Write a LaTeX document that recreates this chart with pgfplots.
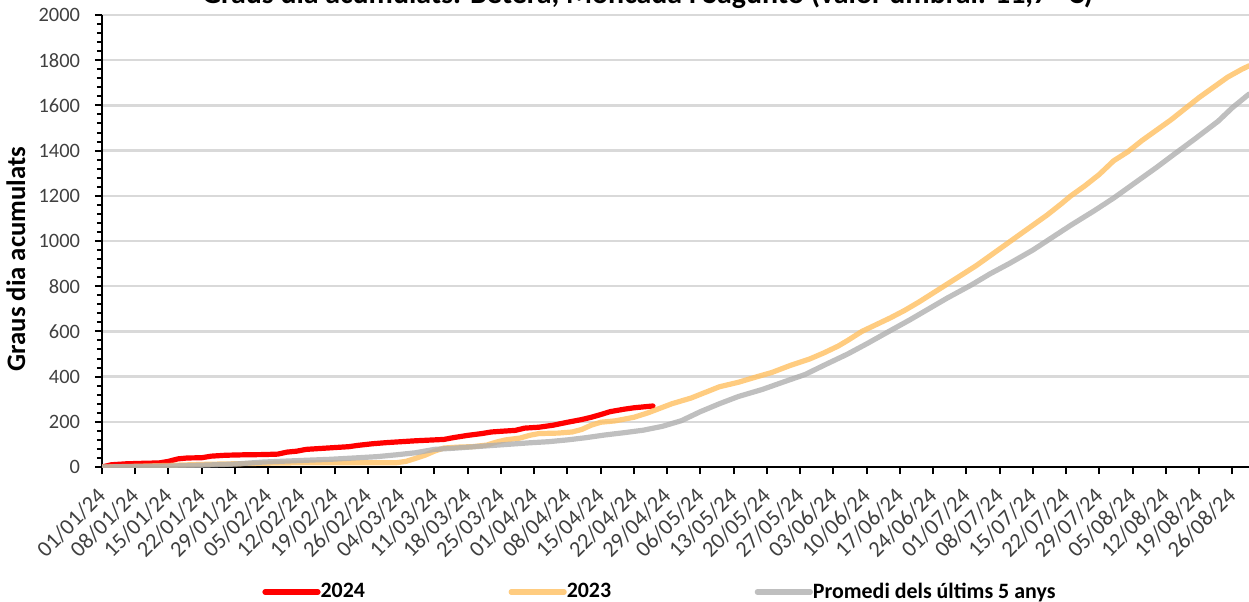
\documentclass[border=0pt]{standalone}
\usepackage{pgfplots}
\pgfplotsset{compat=1.18}
\usepackage{fontspec}
\setmainfont{Carlito}
\definecolor{c24}{RGB}{255,0,0}
\definecolor{c23}{RGB}{255,191,96}
\definecolor{cavg}{RGB}{175,175,175}
\definecolor{gridc}{RGB}{217,217,217}
\definecolor{tickc}{RGB}{64,64,64}
\begin{document}
\begin{tikzpicture}
\begin{axis}[
  at={(0,0)}, anchor=south west,
  scale only axis, width=573.5bp, height=226bp,
  xmin=0, xmax=241.5, ymin=0, ymax=2000,
  axis x line*=bottom, axis y line*=left,
  axis line style={line width=1.4bp, black},
  xtick={0,7,...,238},
  xticklabels={01/01/24,08/01/24,15/01/24,22/01/24,29/01/24,05/02/24,12/02/24,19/02/24,26/02/24,04/03/24,11/03/24,18/03/24,25/03/24,01/04/24,08/04/24,15/04/24,22/04/24,29/04/24,06/05/24,13/05/24,20/05/24,27/05/24,03/06/24,10/06/24,17/06/24,24/06/24,01/07/24,08/07/24,15/07/24,22/07/24,29/07/24,05/08/24,12/08/24,19/08/24,26/08/24},
  ytick={0,200,...,2000},
  minor y tick num=4,
  tick align=outside,
  major tick length=3.5bp, minor tick length=2.5bp,
  tick style={black, line width=1bp},
  ymajorgrids, grid style={gridc, line width=1.2bp},
  /pgf/number format/assume math mode=true,
  /pgf/number format/1000 sep={},
  ticklabel style={text=tickc},
  yticklabel style={font=\fontsize{10.25}{12}\selectfont, xshift=-4bp},
  xticklabel style={font=\fontsize{11.3}{13}\selectfont, xshift=-3.2bp, yshift=-6bp, rotate=45, anchor=north east, inner sep=0pt},
  ylabel={Graus dia acumulats},
  every axis y label/.style={at={(axis description cs:-0.075,0.46)}, rotate=90, anchor=center, font=\bfseries\fontsize{13.4}{15}\selectfont},
  legend style={at={(axis description cs:0.1395,-0.2765)}, anchor=west, draw=none, fill=none, legend columns=3, inner sep=0pt, font=\bfseries\fontsize{11}{12}\selectfont, /tikz/every even column/.append style={column sep=0pt}},
  legend image code/.code={\draw[#1, line cap=round] (0bp,0bp) -- (26.5bp,0bp);},
]
\addplot[c24, line width=2.6bp, line cap=round, line join=round] coordinates {
(0,0) (2,10) (5,14) (8,16) (12,18) (14,25) (16,36) (18,40) (21,41) (23,48) (26,52) (30,54) (34,55) (37,57) (39,66) (41,70) (43,78) (46,82) (49,86) (52,90) (54,96) (57,103) (60,108) (63,112) (66,116) (70,120) (72,122) (74,130) (77,140) (80,148) (82,155) (84,158) (87,162) (89,172) (92,176) (95,185) (98,198) (101,210) (103,220) (105,232) (107,245) (110,256) (112,262) (114,266) (116,270)
};
\addlegendentry{\makebox[90bp][l]{\hspace*{-2bp}2024}}
\addplot[c23, opacity=0.8, line width=2.6bp, line cap=round, line join=round] coordinates {
(0,0) (7,3) (14,7) (22,12) (30,15) (38,18) (50,19) (62,19) (64,25) (66,38) (68,52) (70,70) (72,84) (75,88) (78,90) (81,97) (83,110) (85,120) (88,128) (90,140) (92,148) (96,150) (99,155) (101,166) (103,185) (105,198) (108,204) (112,220) (115,240) (117,256) (120,280) (124,305) (127,330) (130,355) (134,375) (138,400) (141,418) (145,450) (149,478) (152,505) (155,535) (157,560) (160,600) (163,630) (166,660) (169,693) (172,730) (175,770) (178,810) (181,850) (184,890) (187,935) (190,980) (193,1025) (196,1070) (199,1115) (202,1165) (204,1200) (207,1245) (210,1295) (213,1355) (216,1395) (219,1445) (222,1490) (225,1535) (228,1585) (231,1635) (234,1680) (237,1725) (240,1760) (241.5,1775)
};
\addlegendentry{\makebox[90bp][l]{\hspace*{-2bp}2023}}
\addplot[cavg, opacity=0.8, line width=2.6bp, line cap=round, line join=round] coordinates {
(0,0) (7,2) (14,4) (21,8) (28,13) (34,22) (42,29) (48,34) (54,41) (58,46) (62,54) (66,63) (70,78) (74,83) (78,89) (82,95) (86,101) (90,107) (94,112) (98,120) (102,130) (106,142) (110,152) (114,163) (118,180) (122,205) (126,245) (130,280) (134,312) (139,343) (144,380) (148,409) (152,450) (157,500) (161,545) (165,592) (170,650) (174,699) (178,748) (183,805) (187,855) (191,900) (196,960) (200,1015) (204,1070) (209,1135) (213,1190) (217,1250) (222,1325) (226,1388) (230,1450) (235,1530) (238,1590) (241.5,1650)
};
\addlegendentry{\hspace*{-2bp}Promedi dels últims 5 anys}
\end{axis}
\node[font=\bfseries\fontsize{15}{17}\selectfont, anchor=base] at (272.75bp,231.5bp) {Graus dia acumulats. Betera, Moncada i Sagunto (valor umbral: 11,7 ºC)};
\pgfresetboundingbox
\useasboundingbox (-51bp,-67.5bp) rectangle (573.5bp,233.5bp);
\end{tikzpicture}
\end{document}
